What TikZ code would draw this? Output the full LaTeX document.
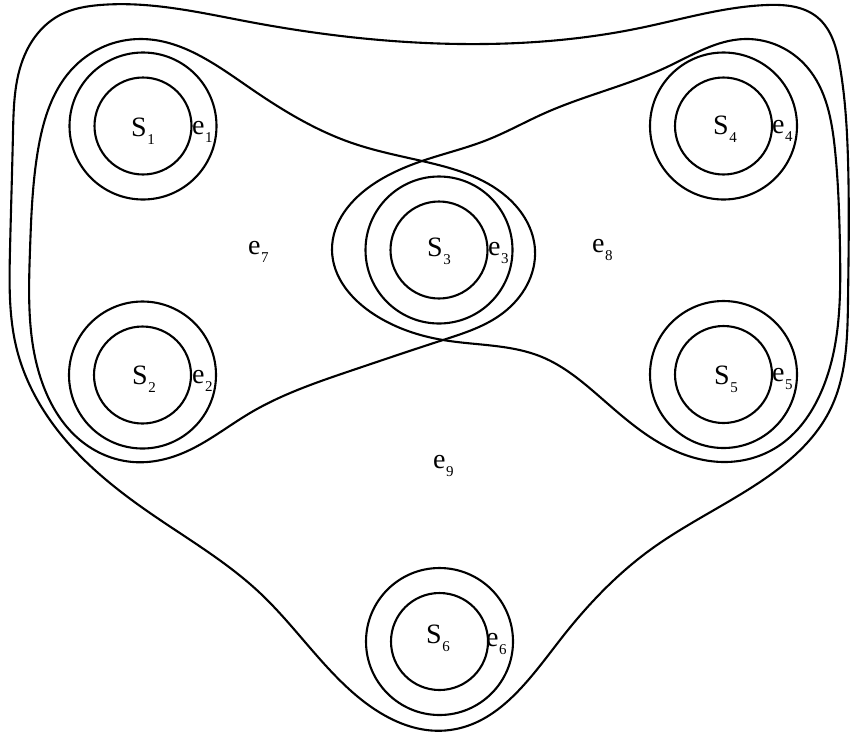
\documentclass[tikz,border=0pt]{standalone}
\usepackage{fontspec}
\setmainfont{Liberation Serif}
\usetikzlibrary{hobby}
\newcommand{\lbl}[2]{#1\kern0.5pt\raisebox{-8pt}{\fontsize{15}{15}\selectfont #2}}
\begin{document}
\begin{tikzpicture}[x=1pt,y=-1pt,
  curve/.style={draw=black, line width=2.1pt, use Hobby shortcut, closed=true},
  ringin/.style={circle, draw=black, line width=2.1pt, inner sep=0pt, minimum size=97pt},
  ringout/.style={circle, draw=black, line width=2.1pt, inner sep=0pt, minimum size=147pt},
  txt/.style={anchor=base west, inner sep=0pt, font=\fontsize{28}{28}\selectfont}]
\useasboundingbox (0,0) rectangle (850,732);
% outer boundary e9
\draw[curve] (100,5) .. (250,22) .. (461,44) .. (640,28) .. (767,5) .. (817,17)
 .. (840,67) .. (848,160) .. (848,300) .. (830,410) .. (760,482) .. (650,550)
 .. (560,640) .. (450,730) .. (350,690) .. (260,593) .. (150,513) .. (63,437)
 .. (17,350) .. (10,250) .. (13,133) .. (27,50) .. (60,15);
% left hyperedge e7
\draw[curve] (140,39) .. (250,88) .. (352,143) .. (422,161) .. (507,197)
 .. (535,250) .. (503,313) .. (443,340) .. (353,370) .. (250,413) .. (183,453)
 .. (133,462) .. (80,440) .. (45,390) .. (30,250) .. (38,150) .. (75,66);
% right hyperedge e8
\draw[curve] (745,39) .. (807,67) .. (835,150) .. (840,250) .. (822,390)
 .. (777,447) .. (723,462) .. (667,447) .. (600,397) .. (542,357) .. (443,340)
 .. (375,315) .. (332,250) .. (375,183) .. (422,161) .. (487,140) .. (545,113)
 .. (667,67);
% vertices
\node[ringin]  (s1in)  at (143,126) {};
\node[ringout] (s1out) at (143,126) {};
\node[ringin]  (s2in)  at (142.5,375) {};
\node[ringout] (s2out) at (142.5,375) {};
\node[ringin]  (s3in)  at (439,250) {};
\node[ringout] (s3out) at (439,250) {};
\node[ringin]  (s4in)  at (723.5,126) {};
\node[ringout] (s4out) at (723.5,126) {};
\node[ringin]  (s5in)  at (723.5,374.5) {};
\node[ringout] (s5out) at (723.5,374.5) {};
\node[ringin]  (s6in)  at (439.5,641.5) {};
\node[ringout] (s6out) at (439.5,641.5) {};
% labels
\node[txt] (l1) at (131,136) {\lbl{S}{1}};
\node[txt] (m1) at (192,134) {\lbl{e}{1}};
\node[txt] (l2) at (132,384) {\lbl{S}{2}};
\node[txt] (m2) at (192,383) {\lbl{e}{2}};
\node[txt] (l3) at (427,256) {\lbl{S}{3}};
\node[txt] (m3) at (488,255) {\lbl{e}{3}};
\node[txt] (l4) at (713,134) {\lbl{S}{4}};
\node[txt] (m4) at (772,133) {\lbl{e}{4}};
\node[txt] (l5) at (714,384) {\lbl{S}{5}};
\node[txt] (m5) at (772,381) {\lbl{e}{5}};
\node[txt] (l6) at (426,643) {\lbl{S}{6}};
\node[txt] (m6) at (486,646) {\lbl{e}{6}};
\node[txt] (m7) at (248,254) {\lbl{e}{7}};
\node[txt] (m8) at (592,252) {\lbl{e}{8}};
\node[txt] (m9) at (433,468) {\lbl{e}{9}};
\end{tikzpicture}
\end{document}
